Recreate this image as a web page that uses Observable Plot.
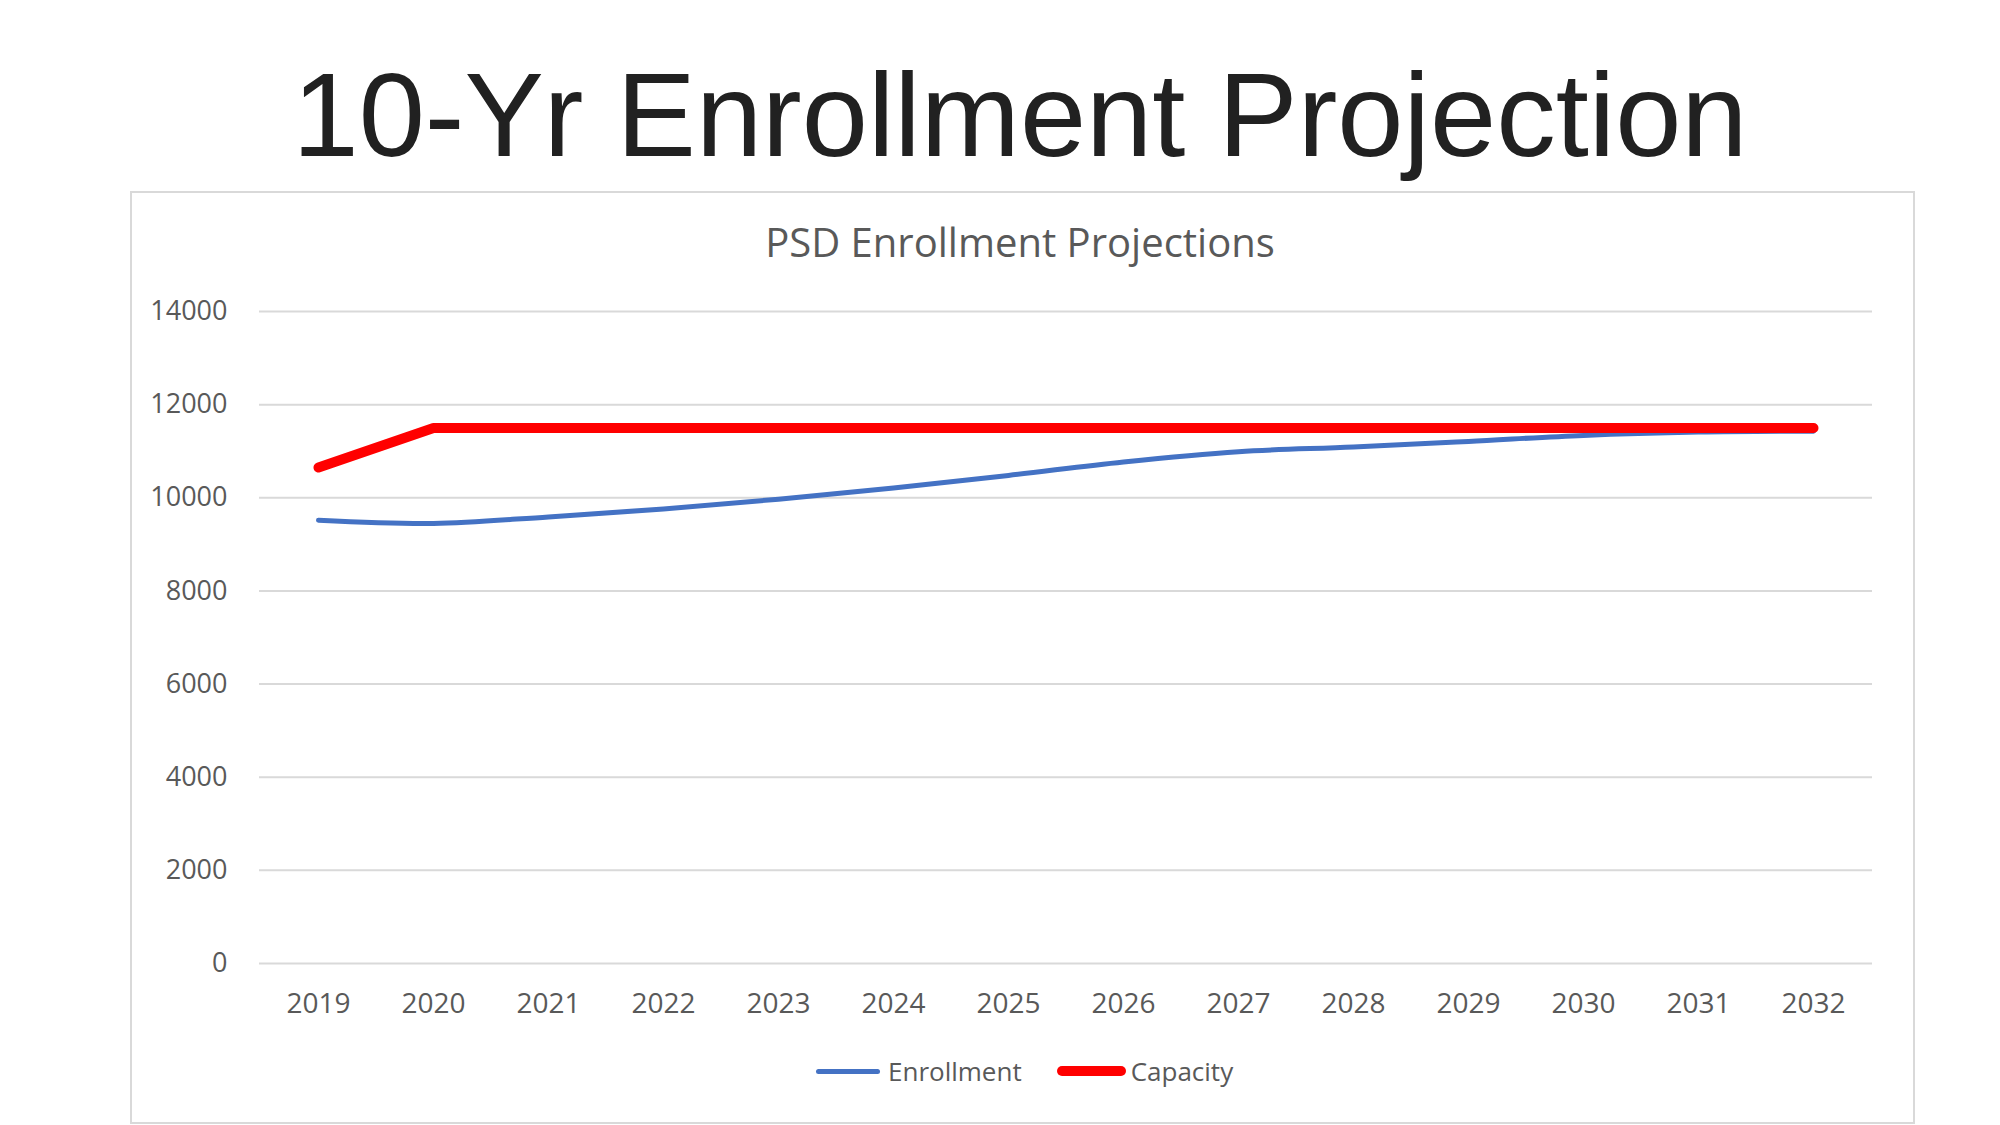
<!DOCTYPE html>
<html>
<head>
<meta charset="utf-8">
<script src="https://cdn.jsdelivr.net/npm/d3@7"></script>
<script src="https://cdn.jsdelivr.net/npm/@observablehq/plot@0.6"></script>
<style>
  html, body { margin: 0; padding: 0; background: #fff; }
  body {
    width: 2000px; height: 1125px; position: relative; overflow: hidden;
    font-family: "Open Sans", sans-serif;
  }
  #headline {
    position: absolute; left: 1020px; top: 55px; transform: translateX(-50%);
    margin: 0; white-space: nowrap;
    font-family: "Liberation Sans", Arial, sans-serif; font-weight: normal;
    font-size: 119px; line-height: 1; color: #212121;
  }
  #panel {
    position: absolute; left: 130px; top: 191px; width: 1785px; height: 933px;
    box-sizing: border-box; border: 2px solid #d9d9d9; background: #fff;
  }
  #chart-title {
    position: absolute; left: 1020px; top: 222px; transform: translateX(-50%);
    white-space: nowrap; font-size: 40px; line-height: 1; color: #595959;
  }
  #chart { position: absolute; left: 130px; top: 280px; }
  #legend {
    position: absolute; left: 816px; top: 1053px; height: 36px;
    display: flex; align-items: center; font-size: 26px; color: #595959;
  }
  #legend .item { display: flex; align-items: center; }
  #legend .swatch { border-radius: 6px; }
</style>
</head>
<body>
<h1 id="headline">10-Yr Enrollment Projection</h1>
<div id="panel"></div>
<div id="chart-title">PSD Enrollment Projections</div>
<div id="chart"></div>
<div id="legend"></div>
<script>
  // Projection years (category axis)
  const years = ["2019", "2020", "2021", "2022", "2023", "2024", "2025",
                 "2026", "2027", "2028", "2029", "2030", "2031", "2032"];

  // Projected district enrollment
  const enrollment = [9520, 9450, 9590, 9760, 9970, 10210, 10480,
                      10770, 10990, 11090, 11210, 11340, 11410, 11430];

  // Building capacity
  const capacity = [10650, 11500, 11500, 11500, 11500, 11500, 11500,
                    11500, 11500, 11500, 11500, 11500, 11500, 11500];

  // Value axis ticks
  const yTicks = [0, 2000, 4000, 6000, 8000, 10000, 12000, 14000];

  const seriesNames = ["Enrollment", "Capacity"];
  const seriesColors = ["#4472c4", "#ff0000"];
  const seriesWidths = [5, 10];

  const rows = years.map((year, i) => ({year, enrollment: enrollment[i], capacity: capacity[i]}));

  const chart = Plot.plot({
    width: 1785,
    height: 770,
    marginLeft: 129,
    marginRight: 43,
    marginTop: 31,
    marginBottom: 87,
    style: {
      fontFamily: '"Open Sans", sans-serif',
      color: "#595959",
      background: "transparent",
      overflow: "visible"
    },
    x: {type: "point", domain: years, padding: 0.5, label: null},
    y: {domain: [0, 14000], label: null},
    marks: [
      Plot.gridY(yTicks, {stroke: "#d9d9d9", strokeOpacity: 1, strokeWidth: 2}),
      Plot.axisY(yTicks, {tickSize: 0, tickPadding: 32, fontSize: 27, label: null, tickFormat: (d) => String(d)}),
      Plot.axisX({tickSize: 0, tickPadding: 30, fontSize: 28, label: null}),
      Plot.line(rows, {
        x: "year", y: "enrollment", stroke: seriesColors[0], strokeWidth: seriesWidths[0],
        curve: "catmull-rom", strokeLinecap: "round", strokeLinejoin: "round"
      }),
      Plot.line(rows, {
        x: "year", y: "capacity", stroke: seriesColors[1], strokeWidth: seriesWidths[1],
        strokeLinecap: "round", strokeLinejoin: "round"
      })
    ]
  });
  document.getElementById("chart").append(chart);

  // Legend below the plot
  const legend = d3.select("#legend");
  const gaps = [{swatch: 64, after: 8, next: 35}, {swatch: 69, after: 5, next: 0}];
  seriesNames.forEach((name, i) => {
    const item = legend.append("div").attr("class", "item")
      .style("margin-right", gaps[i].next + "px");
    item.append("div").attr("class", "swatch")
      .style("width", gaps[i].swatch + "px")
      .style("height", seriesWidths[i] + "px")
      .style("background", seriesColors[i])
      .style("margin-right", gaps[i].after + "px");
    item.append("span").text(name);
  });
</script>
</body>
</html>
